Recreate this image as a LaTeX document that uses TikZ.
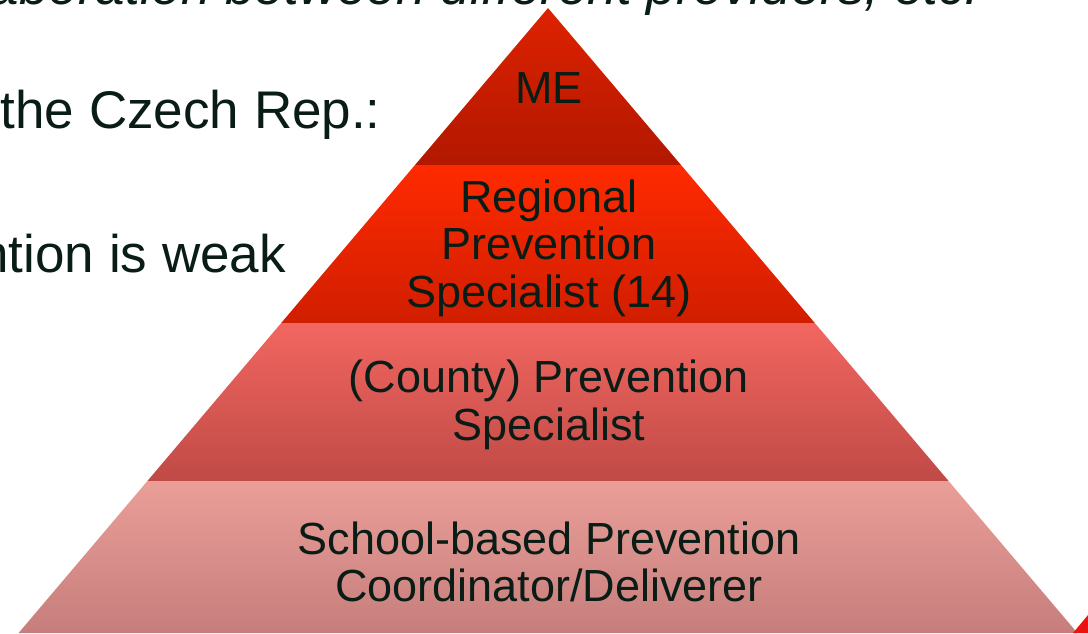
\documentclass[tikz,border=0pt]{standalone}
\usepackage{fontspec}
\setmainfont{Liberation Sans}
\definecolor{txt}{RGB}{10,28,22}
\definecolor{meTop}{RGB}{222,34,0}
\definecolor{meBot}{RGB}{178,24,0}
\definecolor{rgTop}{RGB}{255,42,0}
\definecolor{rgBot}{RGB}{208,30,0}
\definecolor{coTop}{RGB}{242,102,96}
\definecolor{coBot}{RGB}{192,74,70}
\definecolor{scTop}{RGB}{234,158,152}
\definecolor{scBot}{RGB}{198,126,124}
\definecolor{arrowred}{RGB}{236,18,18}
\tikzset{
  lvl/.style={text=txt, align=center, font=\fontsize{45}{47.5}\selectfont},
  side/.style={text=txt, font=\fontsize{53}{60}\selectfont},
}
\begin{document}
\begin{tikzpicture}[x=1pt,y=-1pt]
\useasboundingbox (0,0) rectangle (1088,633);
% pyramid levels
\shade[top color=meTop, bottom color=meBot] (548,8) -- (681,165) -- (415,165) -- cycle;
\shade[top color=rgTop, bottom color=rgBot] (415,165) -- (681,165) -- (814.8,323) -- (281.2,323) -- cycle;
\shade[top color=coTop, bottom color=coBot] (281.2,323) -- (814.8,323) -- (948.6,481) -- (147.4,481) -- cycle;
\shade[top color=scTop, bottom color=scBot] (147.4,481) -- (948.6,481) -- (1077.4,633) -- (18.6,633) -- cycle;
% corner arrow fragment
\fill[arrowred] (1073,633) -- (1088,615) -- (1088,633) -- cycle;
% level labels
\node[lvl] (me) at (549,88) {ME};
\node[lvl] (reg) at (549,248) {Regional\\Prevention\\Specialist (14)};
\node[lvl] (cty) at (549,405) {(County) Prevention\\Specialist};
\node[lvl] (sch) at (549,562) {School-based Prevention\\Coordinator/Deliverer};
% side texts
\node[side, anchor=base east, inner sep=0pt] (t1) at (381,128) {the Czech Rep.:};
\node[side, anchor=base east, inner sep=0pt] (t2) at (286,272) {ntion is weak};
\node[side, anchor=base east, inner sep=0pt, font=\fontsize{53}{60}\selectfont\itshape] (t0) at (980,4.5) {aboration between different providers, etc.};
\end{tikzpicture}
\end{document}
